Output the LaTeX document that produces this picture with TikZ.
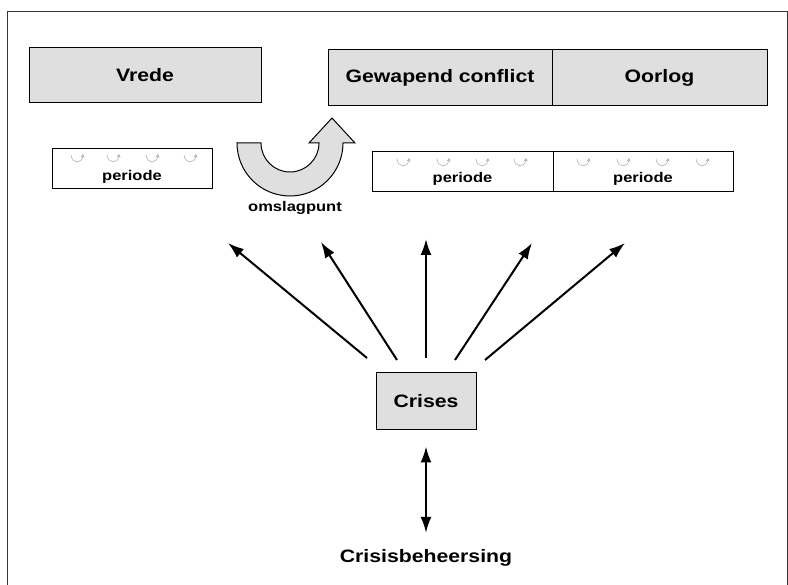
\documentclass[tikz,border=0pt]{standalone}
\usepackage{fontspec}
\setmainfont{Liberation Sans}[FakeStretch=1.18]
\usetikzlibrary{arrows.meta,scopes}

\begin{document}
\begin{tikzpicture}[
    x=1pt,y=-1pt,
    force/.style={>={Latex[length=16pt,width=11pt]},line width=2pt,draw=black},
    blok/.style={rectangle,draw=black,fill=gray!25,line width=1pt,inner sep=0pt},
    per/.style={rectangle,draw=black,fill=white,line width=1pt,minimum width=#1,minimum height=40pt,inner sep=0pt},
    big/.style={font=\bfseries\fontsize{18}{20}\selectfont,inner sep=0pt},
    small/.style={font=\bfseries\fontsize{14}{16}\selectfont,inner sep=0pt},
    curl/.style={draw=gray!60,line width=0.6pt,-{Stealth[length=3.5pt,width=4pt]}}
]
    \useasboundingbox (0,0) rectangle (788,585);
    % frame, open at the bottom
    \draw[black!80,line width=1pt] (7,585) -- (7,12) -- (787,12) -- (787,585);

    % upper row
    \node[blok,big,minimum width=232pt,minimum height=55pt] (vrede) at (145,75.5) {Vrede};
    \node[blok,big,minimum width=224pt,minimum height=56pt] (gewapend) at (440,78) {Gewapend conflict};
    \node[blok,big,minimum width=215pt,minimum height=56pt] (oorlog) at (659.5,78) {Oorlog};

    % periods
    \node[per=160pt] (p1) at (132,169) {};
    \node[per=181pt] (p2) at (462.5,172) {};
    \node[per=180pt] (p3) at (643,172) {};
    \node[small] (l1) at ([yshift=-8pt]p1.center) {periode};
    \node[small] (l2) at ([yshift=-7pt]p2.center) {periode};
    \node[small] (l3) at ([yshift=-7pt]p3.center) {periode};
    \foreach \x/\y in {77/158,113/158,152/158,190/158,403/162,443/162,482/162,520/162,583/162,623/162,662/162,702/162}
        \draw[curl] (\x-6,\y-3) .. controls (\x-5,\y+6) and (\x+5,\y+6) .. (\x+6,\y-4);

    % turning point
    \filldraw[fill=gray!25,draw=black,line width=1pt]
        (237,143) -- (261,143)
        .. controls (261,159) and (274,172) .. (290,172)
        .. controls (306,172) and (319,159) .. (319,143)
        -- (309,143) -- (332,118) -- (355,143) -- (343,143)
        .. controls (343,172.3) and (319.3,196) .. (290,196)
        .. controls (260.7,196) and (237,172.3) .. (237,143) -- cycle;
    \node[small] (omslag) at (295,208) {omslagpunt};

    % crises
    \node[blok,big,minimum width=100pt,minimum height=57pt] (crises) at (426,401.5) {Crises};
    \node[big] (beheer) at (426,558) {Crisisbeheersing};

    \coordinate (s1) at (367,358); \coordinate (t1) at (228,243);
    \coordinate (s2) at (397,360); \coordinate (t2) at (321,242);
    \coordinate (s3) at (426,358); \coordinate (t3) at (426,239);
    \coordinate (s4) at (455,360); \coordinate (t4) at (532,243);
    \coordinate (s5) at (485,360); \coordinate (t5) at (625,243);
    {[force,->]
        \draw (s1) -- (t1);
        \draw (s2) -- (t2);
        \draw (s3) -- (t3);
        \draw (s4) -- (t4);
        \draw (s5) -- (t5);
    }
    \draw[force,<->,shorten <=16pt,shorten >=16.5pt] (crises.south) -- (beheer.north);
\end{tikzpicture}
\end{document}
